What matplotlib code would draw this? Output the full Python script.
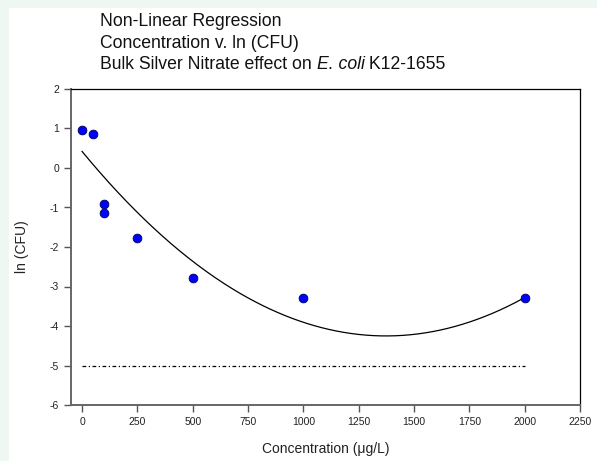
import numpy as np
import matplotlib
matplotlib.use("Agg")
import matplotlib.pyplot as plt
from matplotlib.patches import Rectangle

plt.rcParams['font.family'] = ['Liberation Sans', 'DejaVu Sans']
plt.rcParams['axes.unicode_minus'] = False

# measured data
conc = [0, 50, 100, 100, 250, 500, 1000, 2000]
ln_cfu = [0.97, 0.85, -0.90, -1.13, -1.78, -2.78, -3.28, -3.28]
# regression curve parameters: y = a + b*x + c*x^2
fit_a = 0.42
fit_b = -6.802e-3
fit_c = 2.476e-6
fit_range = [0, 2000]
ref_x = [0, 2000]
ref_y = [-5, -5]
xticks = [0, 250, 500, 750, 1000, 1250, 1500, 1750, 2000, 2250]
yticks = [-6, -5, -4, -3, -2, -1, 0, 1, 2]

fig = plt.figure(figsize=(5.97, 4.61), dpi=100)
fig.patch.set_facecolor('#eef7f2')
fig.patches.append(Rectangle((9/597, 0), 1, 1 - 8/461, transform=fig.transFigure,
                             facecolor='white', edgecolor='none', zorder=-10))

ax = fig.add_axes([71/597, 1 - 405/461, (580 - 71)/597, (405 - 89)/461])

xs = np.linspace(fit_range[0], fit_range[1], 300)
ax.plot(xs, fit_a + fit_b * xs + fit_c * xs**2, color='black', lw=0.9)
ax.plot(ref_x, ref_y, color='black', lw=0.9, linestyle=(0, (3, 2, 1, 2)))
ax.plot(conc, ln_cfu, 'o', color='#0000ff', markeredgecolor='#000050',
        markeredgewidth=0.6, markersize=6.3, zorder=5)

ax.set_xlim(-50, 2250)
ax.set_ylim(-6, 2)
ax.set_xticks(xticks)
ax.set_yticks(yticks)
ax.tick_params(direction='out', length=5, width=1, colors='#555555',
               labelsize=7.5, labelcolor='#222222')
for s in ['left', 'bottom']:
    ax.spines[s].set_color('#666666')
    ax.spines[s].set_linewidth(1.4)
for s in ['top', 'right']:
    ax.spines[s].set_color('black')
    ax.spines[s].set_linewidth(0.9)

ax.set_xlabel('Concentration (\u03bcg/L)', fontsize=10, color='#222222', labelpad=11)
ax.set_ylabel('ln (CFU)', fontsize=10, color='#222222', labelpad=15)

tfs = 12.7
base = [26, 47.5, 69]
fig.text(100/597, 1 - base[0]/461, 'Non-Linear Regression', fontsize=tfs,
         color='#111111', ha='left', va='baseline')
fig.text(100/597, 1 - base[1]/461, 'Concentration v. ln (CFU)', fontsize=tfs,
         color='#111111', ha='left', va='baseline')

renderer = fig.canvas.get_renderer()


def text_width(s, style):
    # width including trailing spaces, measured with a probe character
    p1 = fig.text(0, 0, s + '|', fontsize=tfs, style=style)
    p2 = fig.text(0, 0, '|', fontsize=tfs, style=style)
    w = p1.get_window_extent(renderer).width - p2.get_window_extent(renderer).width
    p1.remove()
    p2.remove()
    return w


parts = [('Bulk Silver Nitrate effect on ', 'normal'), ('E. coli', 'italic'),
         (' K12-1655', 'normal')]
x_px = 100
for txt, style in parts:
    fig.text(x_px/597, 1 - base[2]/461, txt, fontsize=tfs, style=style,
             color='#111111', ha='left', va='baseline')
    x_px += text_width(txt, style)

fig.savefig('out.png', dpi=100, facecolor=fig.get_facecolor())
